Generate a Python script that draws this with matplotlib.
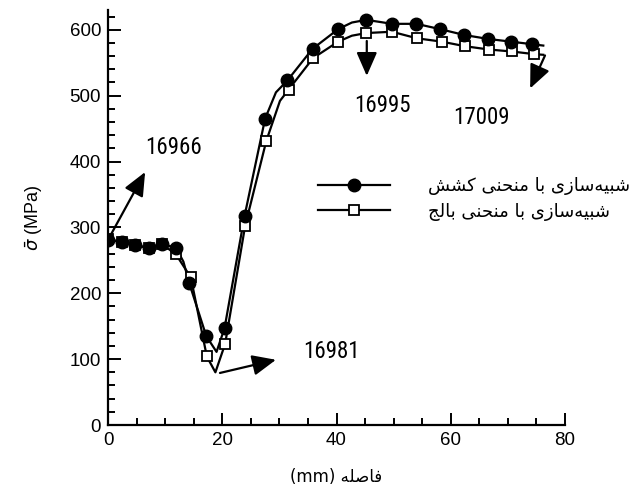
import matplotlib
matplotlib.use("Agg")
import matplotlib.pyplot as plt
from matplotlib.ticker import MultipleLocator
from matplotlib import font_manager
from matplotlib.font_manager import FontProperties

# ---------------- data ----------------
# marker points (distance mm, effective stress MPa)
tension_x = [0, 2.4, 4.7, 7.1, 9.4, 11.9, 14.2, 17.2, 20.4, 23.9, 27.5, 31.4, 35.8,
             40.3, 45.2, 49.7, 54.0, 58.1, 62.4, 66.6, 70.5, 74.3]
tension_y = [281, 278, 273, 269, 275, 269, 216, 135, 147, 317, 465, 523, 571,
             601, 615, 609, 609, 601, 592, 586, 582, 578]
bulge_x = [0, 2.4, 4.7, 7.1, 9.4, 11.9, 14.5, 17.3, 20.5, 24.0, 27.7, 31.6, 35.9,
           40.3, 45.2, 49.7, 54.1, 58.4, 62.5, 66.7, 70.7, 74.6]
bulge_y = [282, 278, 273, 269, 275, 259, 224, 104, 123, 302, 431, 509, 557,
           582, 595, 597, 587, 582, 575, 570, 567, 563]

# full curves (denser)
tension_line_x = [0, 2.4, 4.7, 7.1, 9.4, 11.9, 13.2, 14.2, 17.2, 19.0, 20.4, 23.9, 27.5,
                  29.4, 31.4, 35.8, 40.3, 42.7, 45.2, 47.5, 49.7, 54.0, 58.1, 62.4,
                  66.6, 70.5, 74.3, 76.2]
tension_line_y = [281, 278, 273, 269, 275, 269, 248, 216, 135, 111, 147, 317, 465,
                  505, 523, 571, 601, 611, 615, 612, 609, 609, 601, 592,
                  586, 582, 578, 576]
bulge_line_x = [0, 2.4, 4.7, 7.1, 9.4, 11.9, 14.5, 17.3, 18.8, 20.5, 24.0, 27.7,
                30.1, 31.6, 35.9, 40.3, 42.7, 45.2, 49.7, 54.1, 58.4, 62.5, 66.7,
                70.7, 74.6, 76.2]
bulge_line_y = [282, 278, 273, 269, 275, 259, 224, 104, 80, 123, 302, 431,
                492, 509, 557, 582, 591, 595, 597, 587, 582, 575, 570,
                567, 563, 562]

# annotations: label, arrow start, arrow tip, label position (data units)
ann_labels = ["16966", "16981", "16995", "17009"]
ann_start = [(0.0, 281), (19.6, 79), (45.3, 583), (76.5, 561)]
ann_tip = [(6.5, 384), (29.4, 99), (45.3, 530), (73.9, 511)]
ann_text = [(11.5, 421), (39.2, 111), (48.1, 485), (65.4, 467)]

series_names = ["شبیه\u200cسازی با منحنی کشش", "شبیه\u200cسازی با منحنی بالج"]
xlabel_word = "فاصله"
x_ticks = [0, 20, 40, 60, 80]
y_ticks = [0, 100, 200, 300, 400, 500, 600]

# ---------------- simple Arabic/Persian shaping ----------------
FORMS = {  # isolated, final, initial, medial
    '\u0627': ('\uFE8D', '\uFE8E', None, None),
    '\u0628': ('\uFE8F', '\uFE90', '\uFE91', '\uFE92'),
    '\u062C': ('\uFE9D', '\uFE9E', '\uFE9F', '\uFEA0'),
    '\u062D': ('\uFEA1', '\uFEA2', '\uFEA3', '\uFEA4'),
    '\u0632': ('\uFEAF', '\uFEB0', None, None),
    '\u0633': ('\uFEB1', '\uFEB2', '\uFEB3', '\uFEB4'),
    '\u0634': ('\uFEB5', '\uFEB6', '\uFEB7', '\uFEB8'),
    '\u0635': ('\uFEB9', '\uFEBA', '\uFEBB', '\uFEBC'),
    '\u0641': ('\uFED1', '\uFED2', '\uFED3', '\uFED4'),
    '\u0644': ('\uFEDD', '\uFEDE', '\uFEDF', '\uFEE0'),
    '\u0645': ('\uFEE1', '\uFEE2', '\uFEE3', '\uFEE4'),
    '\u0646': ('\uFEE5', '\uFEE6', '\uFEE7', '\uFEE8'),
    '\u0647': ('\uFEE9', '\uFEEA', '\uFEEB', '\uFEEC'),
    '\u06CC': ('\uFBFC', '\uFBFD', '\uFBFE', '\uFBFF'),
    '\u06A9': ('\uFB8E', '\uFB8F', '\uFB90', '\uFB91'),
}


def shape(text):
    out = []
    n = len(text)
    for i, ch in enumerate(text):
        if ch not in FORMS:
            if ch != '\u200c':
                out.append(ch)
            continue
        iso, fin, ini, med = FORMS[ch]
        prev = text[i - 1] if i > 0 else ''
        nxt = text[i + 1] if i + 1 < n else ''
        join_prev = prev in FORMS and FORMS[prev][2] is not None
        join_next = nxt in FORMS and ini is not None
        if join_prev and join_next:
            out.append(med)
        elif join_prev:
            out.append(fin)
        elif join_next:
            out.append(ini)
        else:
            out.append(iso)
    return ''.join(out)[::-1]


# ---------------- fonts ----------------
def narrow_font(size):
    wanted = ['Liberation Sans Narrow', 'Roboto Condensed', 'Open Sans Condensed',
              'Noto Sans Condensed', 'DejaVu Sans Condensed']
    for name in wanted:
        for f in font_manager.fontManager.ttflist:
            if f.name == name and f.weight in (400, 'normal', 'regular') and f.style == 'normal':
                return FontProperties(fname=f.fname, size=size)
    for f in font_manager.fontManager.ttflist:
        if f.stretch in ('condensed', 'semi-condensed') and f.style == 'normal' \
                and f.weight in (400, 'normal', 'regular') and 'Mono' not in f.name \
                and 'Serif' not in f.name and 'CJK' not in f.name:
            return FontProperties(fname=f.fname, size=size)
    return FontProperties(family=['Liberation Sans', 'DejaVu Sans'], size=size - 1.5)


tick_font = ['Liberation Sans', 'DejaVu Sans']
ar_font = ['DejaVu Sans']

fig = plt.figure(figsize=(6.3, 4.9), dpi=100)
ax = fig.add_axes([108 / 630, 1 - 425 / 490, (565 - 108) / 630, (425 - 10) / 490])

ax.plot(bulge_line_x, bulge_line_y, color='black', lw=1.6, zorder=2)
ax.plot(tension_line_x, tension_line_y, color='black', lw=1.6, zorder=2)
ax.plot(bulge_x, bulge_y, ls='none', marker='s', ms=7, mfc='white', mec='black',
        mew=1.3, zorder=3)
ax.plot(tension_x, tension_y, ls='none', marker='o', ms=9, mfc='black', mec='black',
        zorder=4)

# legend handles (line + marker)
h1, = ax.plot([], [], color='black', lw=1.6, marker='o', ms=9, mfc='black')
h2, = ax.plot([], [], color='black', lw=1.6, marker='s', ms=7, mfc='white', mew=1.3)
leg = ax.legend([h1, h2], [shape(s) for s in series_names], loc='center left',
                bbox_to_anchor=(318 / 630, 1 - 199 / 490), bbox_transform=fig.transFigure,
                frameon=False, borderpad=0, borderaxespad=0, handlelength=4.0,
                handletextpad=2.1, labelspacing=0.4, prop={'family': ar_font, 'size': 13})

nfp = narrow_font(16.5)
for lab, s, t, p in zip(ann_labels, ann_start, ann_tip, ann_text):
    ax.annotate('', xy=t, xytext=s,
                arrowprops=dict(arrowstyle='-|>,head_length=0.8,head_width=0.35',
                                color='black', lw=1.6, mutation_scale=18,
                                shrinkA=0, shrinkB=0))
    ax.text(p[0], p[1], lab, ha='center', va='center', fontproperties=nfp)

ax.set_xlim(0, 80)
ax.set_ylim(0, 630)
ax.set_xticks(x_ticks)
ax.set_yticks(y_ticks)
ax.xaxis.set_minor_locator(MultipleLocator(5))
ax.yaxis.set_minor_locator(MultipleLocator(20))
ax.tick_params(which='both', direction='in', width=1.4, top=False, right=False)
ax.tick_params(which='major', length=9, labelsize=13.5, pad=5)
ax.tick_params(which='minor', length=5)
for lbl in ax.get_xticklabels() + ax.get_yticklabels():
    lbl.set_family(tick_font)
for sp in ['top', 'right']:
    ax.spines[sp].set_visible(False)
for sp in ['left', 'bottom']:
    ax.spines[sp].set_linewidth(1.6)

ax.set_xlabel('(mm) ' + shape(xlabel_word), family=ar_font, fontsize=12, labelpad=14)
ax.set_ylabel(r'$\bar{\sigma}$ (MPa)', family=tick_font, fontsize=13, labelpad=18)

fig.savefig('out.png', dpi=100)
